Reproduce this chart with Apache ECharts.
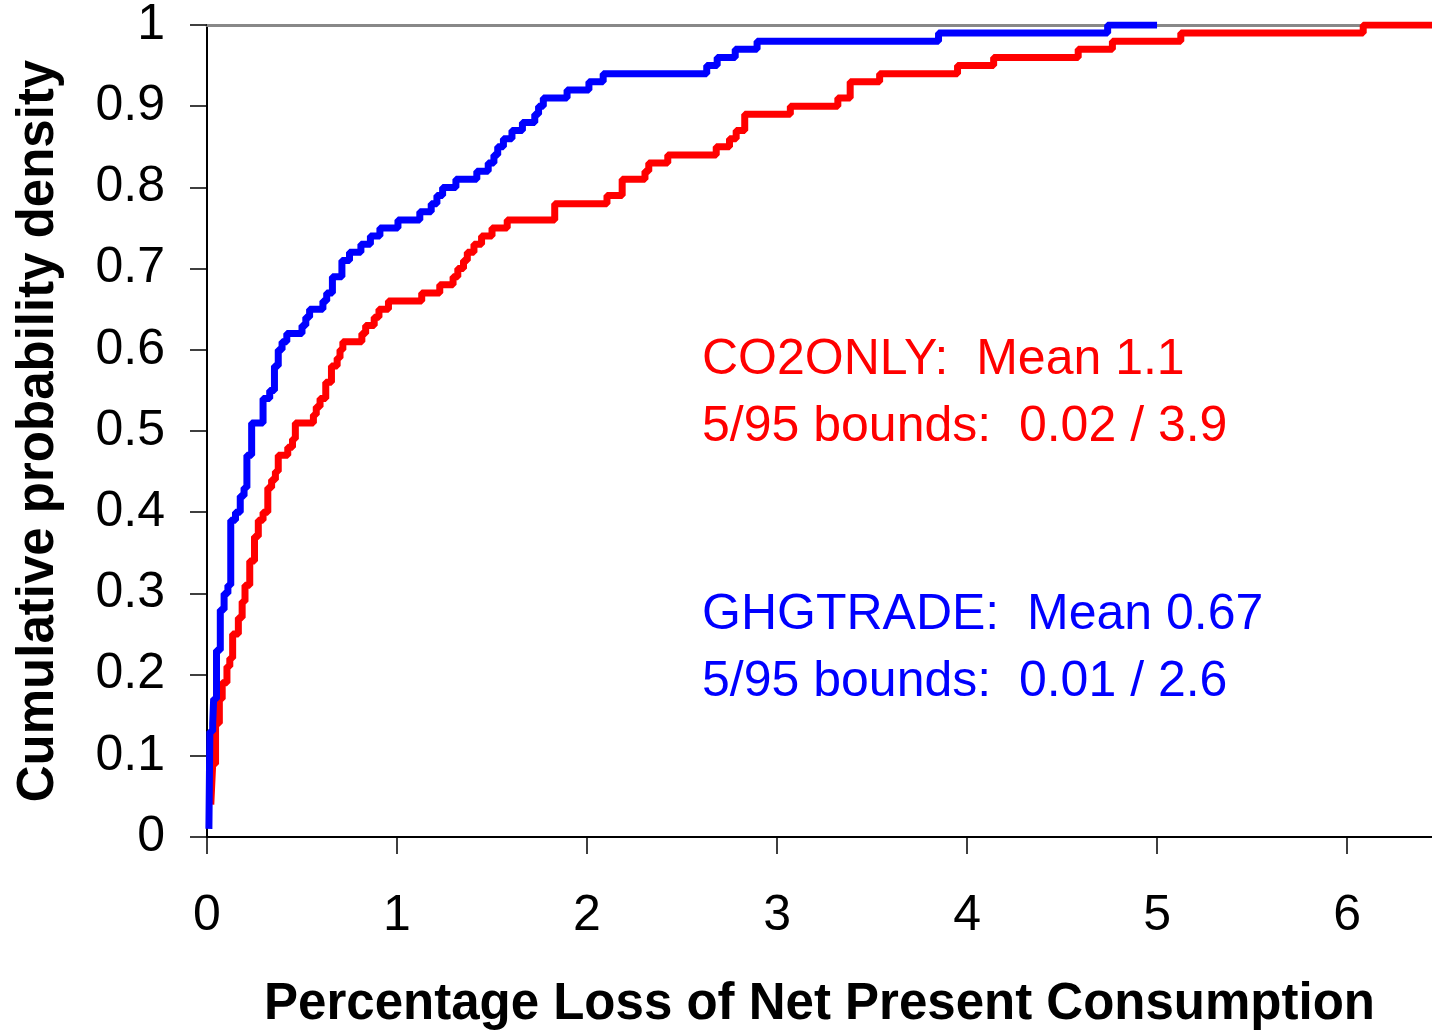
<!DOCTYPE html>
<html>
<head>
<meta charset="utf-8">
<script src="https://cdn.jsdelivr.net/npm/echarts@6/dist/echarts.min.js"></script>
<style>
  html, body { margin: 0; padding: 0; background: #fff; }
  #chart { width: 1432px; height: 1032px; }
</style>
</head>
<body>
<div id="chart"></div>
<script>
  // step positions (x) and cumulative value reached at each step
  var ghgX = [0.01, 0.015, 0.03, 0.035, 0.05, 0.07, 0.09, 0.11, 0.125, 0.15, 0.175, 0.195, 0.21, 0.235,
    0.295, 0.33, 0.355, 0.375, 0.395, 0.42, 0.50, 0.52, 0.54, 0.61, 0.63, 0.66, 0.71, 0.75, 0.81, 0.86,
    0.91, 1.005, 1.12, 1.18, 1.21, 1.24, 1.31, 1.42, 1.48, 1.51, 1.53, 1.56, 1.605, 1.66, 1.725, 1.745,
    1.77, 1.895, 2.01, 2.085, 2.63, 2.685, 2.78, 2.895, 3.85, 4.74, 5.0];
  var ghgY = [0.01, 0.13, 0.14, 0.17, 0.23, 0.28, 0.30, 0.31, 0.39, 0.40, 0.42, 0.43, 0.47, 0.51,
    0.54, 0.55, 0.58, 0.60, 0.61, 0.62, 0.63, 0.64, 0.65, 0.66, 0.67, 0.69, 0.71, 0.72, 0.73, 0.74,
    0.75, 0.76, 0.77, 0.78, 0.79, 0.80, 0.81, 0.82, 0.83, 0.84, 0.85, 0.86, 0.87, 0.88, 0.89, 0.90,
    0.91, 0.92, 0.93, 0.94, 0.95, 0.96, 0.97, 0.98, 0.99, 1.00, 1.00];

  var co2X = [0.02, 0.03, 0.045, 0.065, 0.08, 0.105, 0.12, 0.135, 0.165, 0.185, 0.2, 0.225, 0.25, 0.27,
    0.295, 0.32, 0.34, 0.36, 0.375, 0.425, 0.45, 0.465, 0.56, 0.575, 0.595, 0.625, 0.655, 0.685, 0.70,
    0.715, 0.815, 0.835, 0.88, 0.905, 0.955, 1.13, 1.225, 1.295, 1.32, 1.35, 1.37, 1.405, 1.445, 1.50,
    1.58, 1.83, 2.105, 2.185, 2.305, 2.325, 2.425, 2.68, 2.75, 2.785, 2.83, 3.07, 3.32, 3.385, 3.54,
    3.95, 4.14, 4.585, 4.765, 5.125, 6.085, 6.45];
  var co2Y = [0.04, 0.09, 0.14, 0.17, 0.19, 0.21, 0.22, 0.25, 0.27, 0.29, 0.31, 0.34, 0.37, 0.39,
    0.40, 0.43, 0.44, 0.45, 0.47, 0.48, 0.49, 0.51, 0.52, 0.53, 0.54, 0.56, 0.58, 0.59, 0.60,
    0.61, 0.62, 0.63, 0.64, 0.65, 0.66, 0.67, 0.68, 0.69, 0.70, 0.71, 0.72, 0.73, 0.74, 0.75,
    0.76, 0.78, 0.79, 0.81, 0.82, 0.83, 0.84, 0.85, 0.86, 0.87, 0.89, 0.90, 0.91, 0.93, 0.94,
    0.95, 0.96, 0.97, 0.98, 0.99, 1.00, 1.00];

  var xTicks = [0, 1, 2, 3, 4, 5, 6];

  function pairs(xs, ys) {
    return xs.map(function (x, i) { return [x, ys[i]]; });
  }

  var font = 'Liberation Sans, Arial, sans-serif';
  var chart = echarts.init(document.getElementById('chart'), null, { renderer: 'canvas' });

  chart.setOption({
    animation: false,
    backgroundColor: '#fff',
    grid: { left: 207, top: 25, right: 0, bottom: 195, outerBoundsMode: 'none', containLabel: false },
    xAxis: [{
      type: 'value',
      min: 0,
      max: 6.447,
      interval: 1,
      name: 'Percentage Loss of Net Present Consumption',
      nameLocation: 'middle',
      nameGap: 142,
      nameTextStyle: { fontFamily: font, fontSize: 51, fontWeight: 'bold', color: '#000' },
      axisLine: { lineStyle: { color: '#000', width: 2 } },
      axisTick: { length: 17, customValues: xTicks, lineStyle: { color: '#000', width: 1.5 } },
      axisLabel: {
        margin: 54,
        fontFamily: font,
        fontSize: 50,
        color: '#000',
        customValues: xTicks
      },
      splitLine: { show: false }
    }, {
      type: 'value',
      position: 'top',
      min: 0,
      max: 6.447,
      axisLine: { show: true, lineStyle: { color: '#888', width: 3 } },
      axisTick: { show: false },
      axisLabel: { show: false },
      splitLine: { show: false }
    }],
    yAxis: {
      type: 'value',
      min: 0,
      max: 1,
      interval: 0.1,
      name: 'Cumulative probability density',
      nameLocation: 'middle',
      nameGap: 143,
      nameTextStyle: { fontFamily: font, fontSize: 51, fontWeight: 'bold', color: '#000' },
      axisLine: { show: true, lineStyle: { color: '#000', width: 2 } },
      axisTick: { show: true, length: 17, lineStyle: { color: '#000', width: 1.5 } },
      axisLabel: { margin: 42, fontFamily: font, fontSize: 50, color: '#000' },
      splitLine: { show: false }
    },
    graphic: [
      { type: 'text', left: 702, top: 335, style: { text: 'CO2ONLY:  Mean 1.1', fill: '#ff0000', font: '50px ' + font } },
      { type: 'text', left: 702, top: 402, style: { text: '5/95 bounds:  0.02 / 3.9', fill: '#ff0000', font: '50px ' + font } },
      { type: 'text', left: 702, top: 590, style: { text: 'GHGTRADE:  Mean 0.67', fill: '#0000ff', font: '50px ' + font } },
      { type: 'text', left: 702, top: 657, style: { text: '5/95 bounds:  0.01 / 2.6', fill: '#0000ff', font: '50px ' + font } }
    ],
    series: [{
      name: 'CO2ONLY',
      type: 'line',
      step: 'end',
      showSymbol: false,
      lineStyle: { color: '#ff0000', width: 7 },
      data: pairs(co2X, co2Y)
    }, {
      name: 'GHGTRADE',
      type: 'line',
      step: 'end',
      showSymbol: false,
      lineStyle: { color: '#0000ff', width: 7 },
      data: pairs(ghgX, ghgY)
    }]
  });
</script>
</body>
</html>
